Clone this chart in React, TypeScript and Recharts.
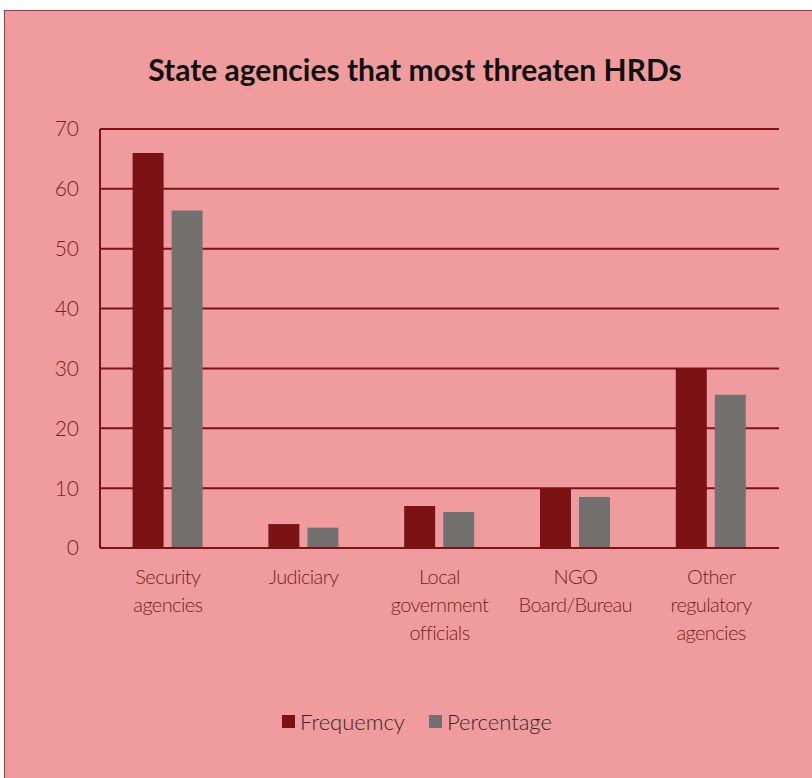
import React from 'react';
import { BarChart, Bar, XAxis, YAxis, CartesianGrid, Legend } from 'recharts';

const categories = ['Security agencies', 'Judiciary', 'Local government officials', 'NGO Board/Bureau', 'Other regulatory agencies'];
const categoryLines: string[][] = [
  ['Security', 'agencies'],
  ['Judiciary'],
  ['Local', 'government', 'officials'],
  ['NGO', 'Board/Bureau'],
  ['Other', 'regulatory', 'agencies'],
];
const frequency = [66, 4, 7, 10, 30];
const percentage = [56.4, 3.4, 6.0, 8.5, 25.6];
const yTicks = [0, 10, 20, 30, 40, 50, 60, 70];

const data = categories.map((c, i) => ({ name: c, idx: i, freq: frequency[i], pct: percentage[i] }));

const DARK = '#7b1216';
const GRAY = '#737070';
const BG = '#f09c9e';
const TXT = '#7a1c21';
const FONT = 'Lato, "Open Sans", sans-serif';

const XTick = (props: any) => {
  const { x, y, payload } = props;
  const lines = categoryLines[categories.indexOf(payload.value)] || [payload.value];
  return (
    <text x={x} y={y} textAnchor="middle" fill={TXT} fontSize={20} fontFamily={FONT} fontWeight={300} letterSpacing={-0.6}>
      {lines.map((l, i) => (
        <tspan key={i} x={x} dy={28}>{l}</tspan>
      ))}
    </text>
  );
};

const LegendContent = (props: any) => {
  const { payload } = props;
  return (
    <div style={{ display: 'flex', justifyContent: 'center', alignItems: 'center', fontFamily: FONT, fontSize: 22, fontWeight: 300, color: '#3a2626', paddingLeft: 16 }}>
      {(payload || []).map((p: any, i: number) => (
        <div key={i} style={{ display: 'flex', alignItems: 'center', marginRight: i === 0 ? 24 : 0 }}>
          <span style={{ display: 'inline-block', width: 13, height: 13, background: p.color, marginRight: 5 }} />
          <span>{p.value}</span>
        </div>
      ))}
    </div>
  );
};

export default function App() {
  return (
    <div style={{ position: 'absolute', left: 4, top: 10, width: 808, height: 768, boxSizing: 'border-box', background: BG, borderTop: '1.5px solid #a0393d', borderLeft: '1.5px solid #a0393d' }}>
      <div style={{ position: 'absolute', left: 6, width: 808, top: 40, textAlign: 'center', fontFamily: FONT, fontWeight: 700, fontSize: 30, color: '#111' }}>
        State agencies that most threaten HRDs
      </div>
      <div style={{ position: 'absolute', left: -1.5, top: -1.5 }}>
        <BarChart width={808} height={768} data={data} margin={{ top: 119, right: 33, left: 36, bottom: 0 }} barGap={8} barCategoryGap="24%">
          <CartesianGrid vertical={false} stroke={DARK} strokeWidth={2} />
          <XAxis dataKey="name" tick={<XTick />} tickLine={false} axisLine={{ stroke: DARK, strokeWidth: 2 }} interval={0} height={160} />
          <YAxis domain={[0, 70]} ticks={yTicks} width={60} tickLine={false} tickSize={6} tickMargin={15} axisLine={{ stroke: DARK, strokeWidth: 2 }} tick={{ fill: TXT, fontSize: 21, fontFamily: FONT, fontWeight: 300 }} />
          <Legend verticalAlign="bottom" content={<LegendContent />} height={70} />
          <Bar dataKey="freq" name="Frequemcy" fill={DARK} isAnimationActive={false} />
          <Bar dataKey="pct" name="Percentage" fill={GRAY} isAnimationActive={false} />
        </BarChart>
      </div>
    </div>
  );
}
